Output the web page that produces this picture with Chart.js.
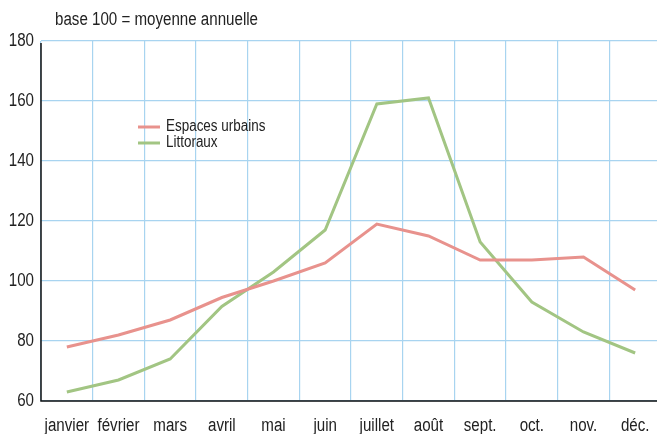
<!DOCTYPE html>
<html lang="fr">
<head>
<meta charset="UTF-8" />
<title>Saisonnalité</title>
<style>
  html, body { margin: 0; padding: 0; background: #fff; overflow: hidden; }
  .wrap { width: 657px; height: 434px; overflow: hidden; }
</style>
</head>
<body>
<div class="wrap"><canvas id="myChart" width="661" height="434"></canvas></div>
<script src="https://cdn.jsdelivr.net/npm/chart.js@4/dist/chart.umd.min.js"></script>
<script>
  const months = ['janvier', 'février', 'mars', 'avril', 'mai', 'juin', 'juillet', 'août', 'sept.', 'oct.', 'nov.', 'déc.'];
  const urbains = [78, 82, 87, 94.5, 100, 106, 119, 115, 107, 107, 108, 97];
  const littoraux = [63, 67, 74, 91.5, 103, 117, 159, 161, 113, 93, 83, 76];
  const yTicks = [60, 80, 100, 120, 140, 160, 180];

  const font = "'Liberation Sans', Arial, sans-serif";
  const narrow = 0.84; // imitation d'une police étroite

  function narrowText(ctx, text, x, y, size, align) {
    ctx.save();
    ctx.font = size + 'px ' + font;
    ctx.textBaseline = 'middle';
    ctx.textAlign = align;
    ctx.translate(x, y);
    ctx.scale(narrow, 1);
    ctx.fillText(text, 0, 0);
    ctx.restore();
  }

  // titre, légende, étiquettes d'axes dessinés à la main
  const extras = {
    id: 'extras',
    afterDraw(chart) {
      const ctx = chart.ctx;
      const a = chart.chartArea;
      ctx.save();
      ctx.fillStyle = '#222';
      narrowText(ctx, 'base 100 = moyenne annuelle', 55, 20, 18, 'left');

      chart.data.datasets.forEach((ds, i) => {
        const y = 127 + i * 16;
        ctx.strokeStyle = ds.borderColor;
        ctx.lineWidth = 3;
        ctx.beginPath();
        ctx.moveTo(138, y);
        ctx.lineTo(160, y);
        ctx.stroke();
        ctx.fillStyle = '#222';
        narrowText(ctx, ds.label, 166, y, 16, 'left');
      });

      const xs = chart.scales.x;
      months.forEach((m, i) => {
        narrowText(ctx, m, xs.getPixelForTick(i), 426, 18, 'center');
      });
      const ys = chart.scales.y;
      yTicks.forEach((v) => {
        narrowText(ctx, String(v), 34, ys.getPixelForValue(v), 18, 'right');
      });

      // axes noirs
      ctx.strokeStyle = '#111';
      ctx.lineWidth = 1.5;
      ctx.beginPath();
      ctx.moveTo(a.left, a.top + 2);
      ctx.lineTo(a.left, a.bottom);
      ctx.lineTo(a.right, a.bottom);
      ctx.stroke();
      ctx.restore();
    }
  };

  const config = {
    type: 'line',
    data: {
      labels: months,
      datasets: [
        {
          label: 'Espaces urbains',
          data: urbains,
          borderColor: '#e8928d',
          borderWidth: 3,
          pointRadius: 0,
          tension: 0,
        },
        {
          label: 'Littoraux',
          data: littoraux,
          borderColor: '#a2c583',
          borderWidth: 3,
          pointRadius: 0,
          tension: 0,
        },
      ],
    },
    options: {
      animation: { duration: 0 },
      responsive: false,
      layout: { padding: { top: 41, right: 0, left: 0, bottom: 0 } },
      plugins: {
        legend: { display: false },
        tooltip: { enabled: false },
      },
      scales: {
        x: {
          offset: true,
          grid: { offset: true, color: '#a8d4f0', lineWidth: 1.2, drawTicks: false },
          border: { display: false },
          ticks: { display: false, autoSkip: false },
          afterFit(scale) { scale.height = 33; },
        },
        y: {
          min: 60,
          max: 180,
          afterBuildTicks(scale) { scale.ticks = yTicks.map((v) => ({ value: v })); },
          grid: { color: '#a8d4f0', lineWidth: 1.2, drawTicks: false },
          border: { display: false },
          ticks: { display: false },
          afterFit(scale) { scale.width = 41; },
        },
      },
    },
    plugins: [extras],
  };

  new Chart(document.getElementById('myChart'), config);
</script>
</body>
</html>
